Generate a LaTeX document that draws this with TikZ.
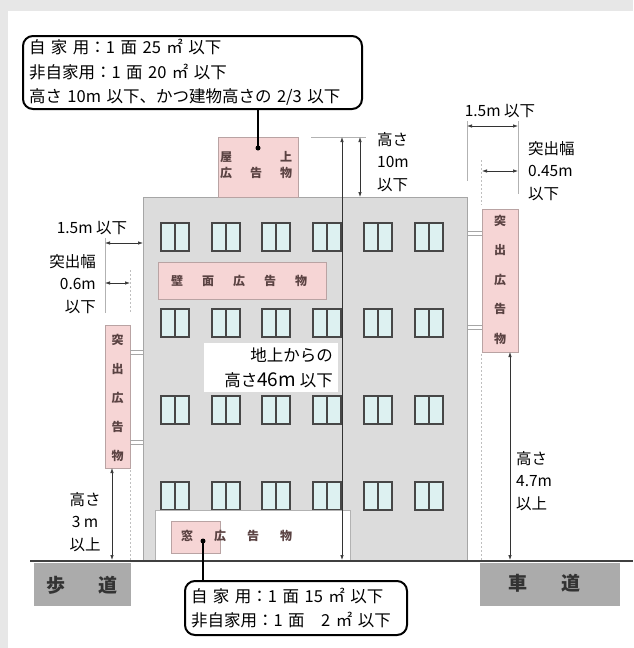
\documentclass[tikz,border=0pt]{standalone}
\usepackage{fontspec}
\setmainfont{Noto Sans CJK JP}
\usetikzlibrary{arrows.meta}

\definecolor{bggray}{HTML}{E7E7E7}
\definecolor{bldgray}{HTML}{DCDCDC}
\definecolor{signpink}{HTML}{F6D5D5}
\definecolor{signedge}{HTML}{B9A3A3}
\definecolor{signink}{HTML}{5A4242}
\definecolor{wincol}{HTML}{474747}
\definecolor{winfill}{HTML}{DDF1F1}
\definecolor{roadgray}{HTML}{ABABAB}
\definecolor{dimgray}{HTML}{333333}

\tikzset{
    callout/.style={draw, line width=2pt, rounded corners=10pt, fill=white, align=left,
        font=\fontsize{16.5}{24.5}\selectfont, inner xsep=6pt, inner ysep=2pt},
    sign/.style={draw=signedge, fill=signpink, line width=0.7pt},
    signtext/.style={font=\fontsize{12}{12}\selectfont\bfseries, text=signink, inner sep=0pt},
    roadtext/.style={font=\fontsize{19}{19}\selectfont\bfseries, text=dimgray},
    dimline/.style={draw=dimgray, line width=0.7pt,
        {Latex[length=5pt,width=3.5pt]}-{Latex[length=5pt,width=3.5pt]}},
    extline/.style={draw=gray!60, line width=0.8pt},
    guide/.style={draw=gray!50, line width=0.9pt, dash pattern=on 2pt off 2pt},
    dimlabel/.style={font=\fontsize{15.5}{22.5}\selectfont, inner sep=0pt},
    window/.style={draw=wincol, line width=1.8pt, fill=winfill},
    bracket/.style={draw=gray!70, line width=0.6pt},
}

\begin{document}
\begin{tikzpicture}[x=1pt, y=-1pt]
    \fill[bggray] (0,0) rectangle (633,648);
    \fill[white] (8,11) rectangle (633,648);
    \useasboundingbox (0,0) rectangle (633,648);

    % building and rooftop sign
    \draw[draw=gray!70, fill=bldgray, line width=0.8pt] (143,197) rectangle (467,560);
    \draw[sign] (218,137) rectangle (298,197);
    \node[signtext] (roof1) at (226,157) {屋};
    \node[signtext] (roof2) at (286,157) {上};
    \node[signtext] (roof3) at (226,173) {広};
    \node[signtext] (roof4) at (256,173) {告};
    \node[signtext] (roof5) at (286,173) {物};

    \foreach \wx in {175,226,276,327,378,429} {
        \foreach \wy in {237,323,410,496} {
            \draw[window] (\wx-14,\wy-14) rectangle (\wx+14,\wy+14);
            \draw[wincol, line width=1.6pt] (\wx,\wy-14) -- (\wx,\wy+14);
        }
    }

    % wall sign
    \draw[sign] (158,262) rectangle (326,299);
    \foreach \c [count=\i] in {壁,面,広,告,物} {
        \node[signtext] (wall\i) at (146+31*\i,281) {\c};
    }

    % ground floor band
    \draw[draw=gray!60, fill=white, line width=0.6pt] (155,510) rectangle (350,560);
    \draw[sign] (171,521) rectangle (220,553);
    \foreach \c/\x [count=\i] in {窓/187,広/220,告/253,物/286} {
        \node[signtext] (band\i) at (\x,536) {\c};
    }

    % projecting signs
    \draw[sign] (105,325) rectangle (130,468);
    \foreach \c [count=\i] in {突,出,広,告,物} {
        \node[signtext] (lsign\i) at (117.5,311+29*\i) {\c};
    }
    \draw[sign] (482,209) rectangle (518,352);
    \foreach \c [count=\i] in {突,出,広,告,物} {
        \node[signtext] (rsign\i) at (500,191+29.5*\i) {\c};
    }
    \foreach \y in {350,354,440,444} \draw[bracket] (130,\y) -- (143,\y);
    \foreach \y in {231,235,325,329} \draw[bracket] (467,\y) -- (482,\y);

    % guides
    \draw[guide] (130,270) -- (130,312);
    \draw[guide] (130,470) -- (130,560);
    \draw[guide] (481,160) -- (481,205);
    \draw[guide] (481,354) -- (481,560);
    \draw[extline] (105,238) -- (105,313);
    \draw[extline] (467,121) -- (467,181);
    \draw[extline] (518,121) -- (518,194);
    \draw[extline] (311,137) -- (366,137);

    % ground and roads
    \draw[line width=2.5pt, gray!50!black] (30,561) -- (633,561);
    \fill[roadgray] (34,562.5) rectangle (131,606);
    \fill[roadgray] (480,562.5) rectangle (620,606);
    \node[roadtext] (walk1) at (56,585) {歩};
    \node[roadtext] (walk2) at (108,585) {道};
    \node[roadtext] (road1) at (518,583) {車};
    \node[roadtext] (road2) at (571,583) {道};

    % dimensions
    \draw[dimline] (105,243) -- (143,243);
    \draw[dimline] (105,283) -- (130,283);
    \draw[dimline] (467,126) -- (518,126);
    \draw[dimline] (482,171) -- (518,171);
    \draw[dimline] (360,137) -- (360,197);
    \draw[dimline] (342,137) -- (342,560);
    \draw[dimline] (112,468) -- (112,560);
    \draw[dimline] (510,352) -- (510,560);

    \node[dimlabel] (leftwidth) at (92,228) {1.5m 以下};
    \node[dimlabel, anchor=east, align=right] (leftproj) at (96,284) {突出幅\\0.6m\\以下};
    \node[dimlabel, anchor=west, align=left] (roofheight) at (377,162) {高さ\\10m\\以下};
    \node[dimlabel] (rightwidth) at (500,111) {1.5m 以下};
    \node[dimlabel, anchor=west, align=left] (rightproj) at (528,171) {突出幅\\0.45m\\以下};
    \node[dimlabel, anchor=west, align=left] (rightclear) at (516,481) {高さ\\4.7m\\以上};
    \node[dimlabel, align=center] (leftclear) at (85,522) {高さ\\3 m\\以上};

    \fill[white] (204,343) rectangle (338,392);
    \node[dimlabel, anchor=east, align=right, font=\fontsize{16.5}{25}\selectfont] (totalheight) at (333,368)
        {地上からの\\高さ{\fontsize{19}{19}\selectfont 46m} 以下};

    % callouts
    \node[callout, anchor=north west, text width=327pt, minimum height=73pt] (roofcallout) at (22,35)
        {自 家 用：1 面 25 ㎡ 以下\\非自家用：1 面 20 ㎡ 以下\\高さ 10m 以下、かつ建物高さの 2/3 以下};
    \coordinate (roofdot) at (258,148);
    \fill (roofdot) circle (2.5);
    \draw[line width=2pt] (roofcallout.south -| roofdot) -- (roofdot);

    \node[callout, anchor=north west, text width=210pt, minimum height=54pt] (bandcallout) at (184,580)
        {自 家 用：1 面 15 ㎡ 以下\\非自家用：1 面 \ \ 2 ㎡ 以下};
    \coordinate (banddot) at (203,541);
    \fill (banddot) circle (2.5);
    \draw[line width=2pt] (banddot) -- (bandcallout.north -| banddot);
\end{tikzpicture}
\end{document}
